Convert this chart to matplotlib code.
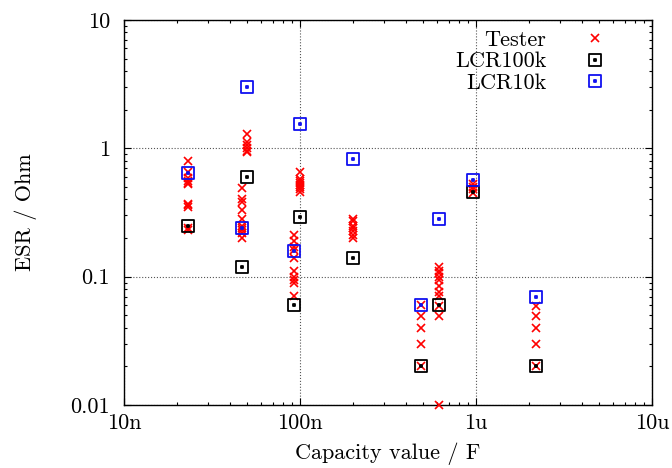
import numpy as np
import matplotlib.pyplot as plt
from matplotlib.path import Path
from matplotlib.ticker import FixedLocator, LogLocator, NullFormatter

plt.rcParams['font.family'] = 'cmr10'
plt.rcParams['axes.formatter.use_mathtext'] = True
plt.rcParams['font.size'] = 16

# capacitor groups (F)
caps = [23e-9, 47e-9, 50e-9, 93e-9, 100e-9, 200e-9, 490e-9, 620e-9, 960e-9, 2.2e-6]

# tester readings (Ohm), one list per capacitor
tester_esr = [
    [0.80, 0.65, 0.59, 0.56, 0.54, 0.53, 0.37, 0.36, 0.35, 0.24, 0.23],
    [0.49, 0.40, 0.38, 0.33, 0.28, 0.25, 0.24, 0.23, 0.22, 0.20],
    [1.29, 1.12, 1.06, 1.0, 0.96, 0.93],
    [0.21, 0.19, 0.17, 0.16, 0.14, 0.11, 0.10, 0.094, 0.089, 0.071],
    [0.65, 0.58, 0.56, 0.54, 0.52, 0.50, 0.48, 0.46],
    [0.28, 0.27, 0.25, 0.24, 0.225, 0.21, 0.20],
    [0.060, 0.049, 0.040, 0.030, 0.020],
    [0.12, 0.11, 0.106, 0.099, 0.094, 0.085, 0.076, 0.071, 0.059, 0.049, 0.01],
    [0.53, 0.50, 0.48, 0.45],
    [0.059, 0.049, 0.040, 0.030, 0.020],
]

lcr100k = [0.25, 0.12, 0.60, 0.060, 0.29, 0.14, 0.020, 0.060, 0.46, 0.020]
lcr10k = [0.64, 0.24, 3.0, 0.158, 1.55, 0.83, 0.060, 0.28, 0.57, 0.070]

x_ticks = [1e-8, 1e-7, 1e-6, 1e-5]
x_labels = ['10n', '100n', '1u', '10u']
y_ticks = [0.01, 0.1, 1, 10]
y_labels = ['0.01', '0.1', '1', '10']

tx = np.concatenate([[c] * len(v) for c, v in zip(caps, tester_esr)])
ty = np.concatenate(tester_esr)

# gnuplot style square with a dot in the middle
d = 0.09
verts = [(-1, -1), (1, -1), (1, 1), (-1, 1), (-1, -1),
         (-d, -d), (d, -d), (d, d), (-d, d), (-d, -d)]
codes = [Path.MOVETO, Path.LINETO, Path.LINETO, Path.LINETO, Path.CLOSEPOLY] * 2
sq_dot = Path(verts, codes)

fig = plt.figure(figsize=(6.72, 4.68), dpi=100)
ax = fig.add_axes([124 / 672, 63 / 468, 528 / 672, 385 / 468])

ax.plot(tx, ty, 'x', color='red', ms=5.5, mew=1.2, ls='none', label='Tester',
        clip_on=False, zorder=3)
ax.plot(caps, lcr100k, marker=sq_dot, color='black', ms=8.5, mew=1.3,
        mfc='none', ls='none', label='LCR100k', zorder=4)
ax.plot(caps, lcr10k, marker=sq_dot, color='#1010f0', ms=8.5, mew=1.3,
        mfc='none', ls='none', label='LCR10k', zorder=4)

ax.set_xscale('log')
ax.set_yscale('log')
ax.set_xlim(1e-8, 1e-5)
ax.set_ylim(0.01, 10)

ax.xaxis.set_major_locator(FixedLocator(x_ticks))
ax.set_xticklabels(x_labels)
ax.yaxis.set_major_locator(FixedLocator(y_ticks))
ax.set_yticklabels(y_labels)
ax.xaxis.set_minor_locator(LogLocator(subs=np.arange(2, 10)))
ax.yaxis.set_minor_locator(LogLocator(subs=np.arange(2, 10)))
ax.xaxis.set_minor_formatter(NullFormatter())
ax.yaxis.set_minor_formatter(NullFormatter())

ax.tick_params(which='both', direction='in', top=True, right=True, width=0.8)
ax.tick_params(which='major', length=5)
ax.tick_params(which='minor', length=2.5)
ax.tick_params(axis='x', which='major', pad=6)
ax.tick_params(axis='y', which='major', pad=10)

ax.grid(True, which='major', ls=':', color='#555555', lw=0.8)
for s in ax.spines.values():
    s.set_linewidth(1.0)

ax.set_xlabel('Capacity value / F', labelpad=7)
ax.set_ylabel('ESR / Ohm', labelpad=24)

ax.legend(loc='upper right', bbox_to_anchor=(0.968, 1.02), frameon=False,
          markerfirst=False, handlelength=2, handletextpad=1.2,
          labelspacing=0.1, borderpad=0.3, fontsize=16)

fig.savefig('out.png', dpi=100)
